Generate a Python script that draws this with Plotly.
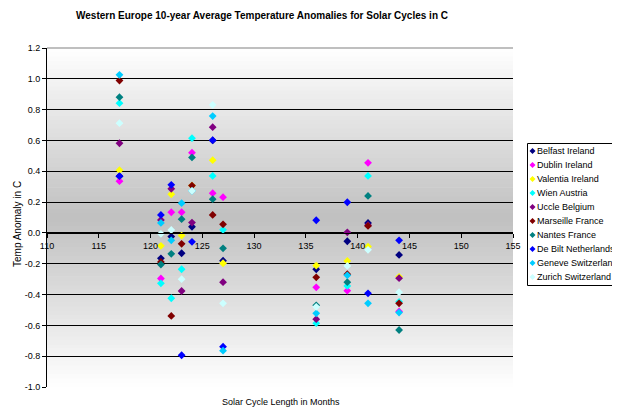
import plotly.graph_objects as go

# ---------------- data ----------------
cycle_lengths = [117, 121, 122, 123, 124, 126, 127, 136, 139, 141, 144]

belfast     = [0.368, -0.165, -0.024, -0.132, 0.040, 0.600, -0.180, -0.236, -0.054, 0.065, -0.143]
dublin      = [0.336, -0.296, 0.134, 0.134, 0.521, 0.258, 0.232, -0.353, -0.375, 0.455, -0.510]
valentia    = [0.407, -0.084, 0.251, -0.017, 0.307, 0.472, -0.197, -0.212, -0.182, -0.089, -0.285]
wien        = [0.842, -0.327, -0.424, -0.236, 0.615, 0.370, 0.020, -0.586, -0.344, 0.370, -0.447]
uccle       = [0.582, 0.084, 0.286, -0.377, 0.067, 0.686, -0.320, -0.560, 0.004, 0.050, -0.294]
marseille   = [0.989, -0.188, -0.539, -0.071, 0.307, 0.117, 0.056, -0.288, -0.268, 0.045, -0.457]
nantes      = [0.881, -0.205, -0.136, 0.089, 0.490, 0.219, -0.100, -0.470, -0.320, 0.240, -0.630]
de_bilt     = [0.368, 0.117, 0.312, -0.794, -0.058, 0.602, -0.738, 0.082, 0.199, -0.392, -0.048]
geneve      = [1.026, 0.065, -0.048, 0.193, 0.273, 0.758, -0.764, -0.522, -0.275, -0.457, -0.517]
zurich      = [0.712, -0.006, 0.019, -0.300, 0.273, 0.831, -0.457, -0.480, -0.214, -0.110, -0.385]

station_names = ["Belfast Ireland", "Dublin Ireland", "Valentia Ireland", "Wien Austria",
                 "Uccle Belgium", "Marseille France", "Nantes France", "De Bilt Netherlands",
                 "Geneve Switzerland", "Zurich Switzerland"]
station_values = [belfast, dublin, valentia, wien, uccle, marseille, nantes, de_bilt, geneve, zurich]
station_colors = ["#000080", "#FF00FF", "#FFFF00", "#00FFFF", "#800080",
                  "#800000", "#008080", "#0000FF", "#00CCFF", "#CCFFFF"]

x_tick_vals = [110, 115, 120, 125, 130, 135, 140, 145, 150, 155]
x_tick_text = ["110", "115", "120", "125", "130", "135", "140", "145", "150", "155"]
y_tick_vals = [-1.0, -0.8, -0.6, -0.4, -0.2, 0.0, 0.2, 0.4, 0.6, 0.8, 1.0, 1.2]
y_tick_text = ["-1.0", "-0.8", "-0.6", "-0.4", "-0.2", "0.0", "0.2", "0.4", "0.6", "0.8", "1.0", "1.2"]

title_text = "Western Europe 10-year Average Temperature Anomalies for Solar Cycles in C"
x_title = "Solar Cycle Length in Months"
y_title = "Temp Anomaly in C"

# ---------------- layout geometry ----------------
OFF = 8  # default body margin of the html page
W, H = 620 - OFF, 420 - OFF
L, R, T, B = 47 - OFF, 107, 48 - OFF, 33
PW, PH = W - L - R, H - T - B
FONT = "Liberation Sans, Arial, sans-serif"


def px_x(px):
    return (px - OFF - L) / PW


def px_y(py):
    return (H - B - (py - OFF)) / PH


fig = go.Figure()
for name, vals, col in zip(station_names, station_values, station_colors):
    fig.add_trace(go.Scatter(
        x=cycle_lengths, y=vals, mode="markers", name=name, showlegend=False,
        marker=dict(symbol="diamond", size=6, color=col, line=dict(width=0)),
        hoverinfo="x+y+name",
    ))

shapes = []
# gradient background (grey in centre, white at top/bottom)
n = 80
for i in range(n):
    y0 = i / n
    y1 = (i + 1) / n
    t = abs((y0 + y1) / 2 - 0.5) * 2
    g = int(round(192 + (255 - 192) * t))
    c = f"rgb({g},{g},{g})"
    shapes.append(dict(type="rect", xref="x domain", yref="y domain", x0=0, x1=1,
                       y0=y0, y1=y1 + 0.002, fillcolor=c, line=dict(width=0), layer="below"))
# grey top border of plot area
shapes.append(dict(type="line", xref="paper", yref="paper", x0=0, x1=1, y0=1, y1=1,
                   line=dict(color="#808080", width=1), layer="above"))

# custom legend box
shapes.append(dict(type="rect", xref="paper", yref="paper",
                   x0=px_x(527.5), x1=px_x(640), y0=px_y(285.5), y1=px_y(143.5),
                   line=dict(color="black", width=1), fillcolor="white", layer="above"))
annotations = []
for i, (name, col) in enumerate(zip(station_names, station_colors)):
    cy = 151 + i * 14
    shapes.append(dict(type="path", xref="paper", yref="paper", xsizemode="pixel", ysizemode="pixel",
                       xanchor=px_x(532.5), yanchor=px_y(cy),
                       path="M0,3 L3,0 L0,-3 L-3,0 Z", fillcolor=col, line=dict(width=0), layer="above"))
    annotations.append(dict(text=name, xref="paper", yref="paper", x=px_x(535), y=px_y(cy),
                            xanchor="left", yanchor="middle", showarrow=False,
                            font=dict(family=FONT, size=9, color="black")))

annotations.append(dict(text=f"<b>{title_text}</b>", xref="paper", yref="paper",
                        x=px_x(262), y=px_y(15), xanchor="center", yanchor="middle", showarrow=False,
                        font=dict(family=FONT, size=10, color="black")))
annotations.append(dict(text=x_title, xref="paper", yref="paper",
                        x=px_x(281), y=px_y(402), xanchor="center", yanchor="middle", showarrow=False,
                        font=dict(family=FONT, size=9, color="black")))
annotations.append(dict(text=y_title, xref="paper", yref="paper", textangle=-90,
                        x=px_x(17), y=px_y(224), xanchor="center", yanchor="middle", showarrow=False,
                        font=dict(family=FONT, size=10, color="black")))

fig.update_layout(
    width=W, height=H, autosize=False,
    margin=dict(l=L, r=R, t=T, b=B, pad=0),
    paper_bgcolor="white", plot_bgcolor="white",
    showlegend=False,
    shapes=shapes, annotations=annotations,
    font=dict(family=FONT, size=9, color="black"),
    xaxis=dict(range=[110, 155], tickvals=x_tick_vals, ticktext=x_tick_text,
               anchor="free", position=1 / 2.2, showline=True, linecolor="black", linewidth=1,
               ticks="outside", ticklen=4, tickcolor="black", showgrid=False, zeroline=False,
               tickfont=dict(family=FONT, size=9, color="black")),
    yaxis=dict(range=[-1.0, 1.2], tickvals=y_tick_vals, ticktext=y_tick_text,
               showline=True, linecolor="black", linewidth=1,
               ticks="outside", ticklen=4, tickcolor="black",
               showgrid=True, gridcolor="black", gridwidth=1, zeroline=False,
               tickfont=dict(family=FONT, size=9, color="black")),
)

fig.write_html("out.html")
